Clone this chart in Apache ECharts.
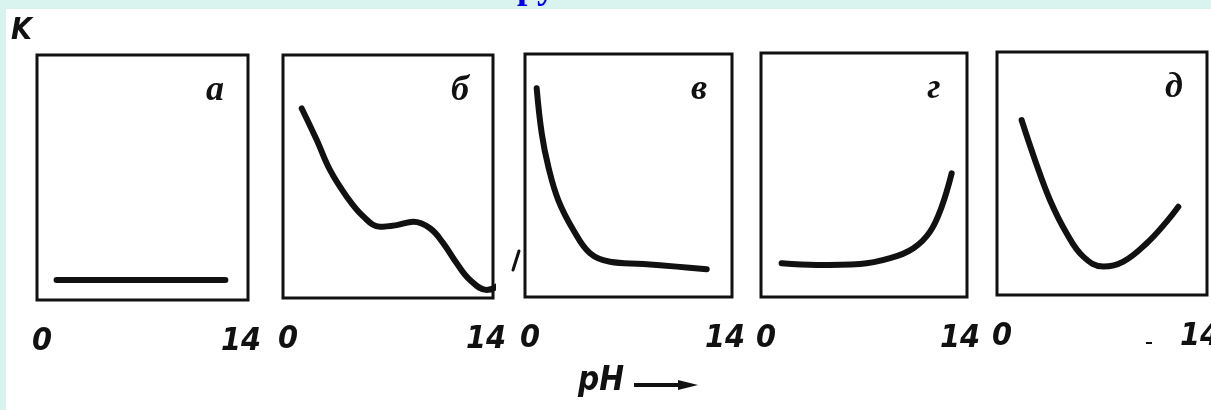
<!DOCTYPE html>
<html>
<head>
<meta charset="utf-8">
<script src="https://cdn.jsdelivr.net/npm/echarts@6/dist/echarts.min.js"></script>
<style>
  html, body { margin: 0; padding: 0; background: #d9f3ef; }
  #chart { width: 1211px; height: 410px; }
</style>
</head>
<body>
<div id="chart"></div>
<script>
// pH range on every panel
const phTicks = [0, 14]
const panelLabels = ['а', 'б', 'в', 'г', 'д']

// K vs pH (K in arbitrary units 0..10)
const curveA = [[1.3, 0.82], [6.9, 0.82], [12.5, 0.82]]
const curveB = [[1.25, 7.8], [2.25, 6.5], [3.13, 5.27], [4.25, 4.17], [5.36, 3.35], [6.47, 2.93],
  [7.58, 3.0], [8.69, 3.14], [9.8, 2.87], [10.69, 2.25], [11.58, 1.43], [12.47, 0.74],
  [13.58, 0.33], [14.24, 0.47], [14.8, 0.81]]
const curveV = [[0.79, 8.59], [1.13, 6.74], [1.58, 5.36], [2.25, 3.99], [3.27, 2.76], [4.4, 1.8],
  [5.75, 1.45], [8.0, 1.36], [10.26, 1.25], [12.29, 1.14]]
const curveG = [[1.4, 1.38], [3.79, 1.31], [6.73, 1.35], [8.77, 1.59], [10.36, 2.0], [11.49, 2.68],
  [12.28, 3.7], [12.96, 5.07]]
const curveD = [[1.64, 7.2], [2.53, 5.56], [3.53, 3.91], [4.64, 2.54], [5.75, 1.58], [7.09, 1.17],
  [8.42, 1.37], [9.98, 2.13], [11.31, 3.02], [12.09, 3.63]]

const curves = [curveA, curveB, curveV, curveG, curveD]

// panel boxes (px)
const boxes = [
  { left: 37, top: 55, width: 211, height: 245 },
  { left: 283, top: 55, width: 210, height: 243 },
  { left: 525, top: 54, width: 207, height: 243 },
  { left: 761, top: 53, width: 206, height: 244 },
  { left: 997, top: 52, width: 210, height: 243 },
]

const ink = '#111'
const sansBold = '"DejaVu Sans Condensed", "Liberation Sans Narrow", "DejaVu Sans", sans-serif'
const tickFont = { color: ink, fontSize: 32, fontStyle: 'italic', fontWeight: 'bold', fontFamily: sansBold }

const chart = echarts.init(document.getElementById('chart'))

const option = {
  backgroundColor: '#d9f3ef',
  animation: false,
  grid: boxes.map(b => ({
    ...b,
    show: true,
    outerBoundsMode: 'none',
    containLabel: false,
    borderColor: ink,
    borderWidth: 3,
    backgroundColor: 'transparent',
    z: 3,
  })),
  xAxis: boxes.map((b, i) => ({
    type: 'value',
    gridIndex: i,
    min: phTicks[0],
    max: phTicks[1],
    interval: 14,
    z: 5,
    axisLine: { show: false },
    axisTick: { show: false },
    splitLine: { show: false },
    axisLabel: {
      margin: 26,
      ...tickFont,
      formatter: v => (v === phTicks[0] ? '{lo|' + v + '}' : '{hi|' + v + '}'),
      rich: {
        lo: { ...tickFont, padding: [0, 0, 0, 10] },
        hi: { ...tickFont, padding: [0, 14, 0, 0] },
      },
    },
  })),
  yAxis: boxes.map((b, i) => ({
    type: 'value',
    gridIndex: i,
    min: 0,
    max: 10,
    show: false,
  })),
  series: curves.map((c, i) => ({
    type: 'line',
    xAxisIndex: i,
    yAxisIndex: i,
    data: c,
    smooth: i === 0 ? false : 0.4,
    showSymbol: false,
    clip: false,
    z: 4,
    lineStyle: { color: ink, width: 6, cap: 'round', join: 'round' },
  })),
  graphic: [
    // blue heading cut off by the page
    {
      type: 'text', left: 517, top: -30, z: 0,
      style: { text: 'ру', fill: '#0000ee', font: 'bold 37px "Liberation Serif", serif' },
    },
    {
      type: 'rect', left: 6, top: 9, z: 1,
      shape: { width: 1205, height: 401 },
      style: { fill: '#ffffff' },
    },
    {
      type: 'text', left: 11, top: 16, z: 5,
      style: { text: 'K', fill: ink, font: 'italic bold 30px ' + sansBold },
    },
    ...panelLabels.map((t, i) => ({
      type: 'text', z: 5,
      x: boxes[i].left + boxes[i].width - 33,
      y: boxes[i].top + 36,
      style: {
        text: t, fill: ink, align: 'center', verticalAlign: 'middle',
        font: 'italic bold 36px "Liberation Serif", serif',
      },
    })),
    {
      type: 'text', left: 578, top: 365, z: 5,
      style: { text: 'pH', fill: ink, font: 'italic bold 33px ' + sansBold },
    },
    {
      type: 'line', z: 5,
      shape: { x1: 634, y1: 385, x2: 684, y2: 385 },
      style: { stroke: ink, lineWidth: 4 },
    },
    {
      type: 'polygon', z: 5,
      shape: { points: [[678, 380], [698, 385], [678, 390]] },
      style: { fill: ink },
    },
    // scan specks
    {
      type: 'line', z: 5,
      shape: { x1: 513, y1: 270, x2: 519, y2: 251 },
      style: { stroke: ink, lineWidth: 3, lineCap: 'round' },
    },
    {
      type: 'line', z: 5,
      shape: { x1: 1146, y1: 343, x2: 1152, y2: 343 },
      style: { stroke: ink, lineWidth: 2 },
    },
  ],
}

chart.setOption(option)
window.addEventListener('resize', chart.resize)
</script>
</body>
</html>
